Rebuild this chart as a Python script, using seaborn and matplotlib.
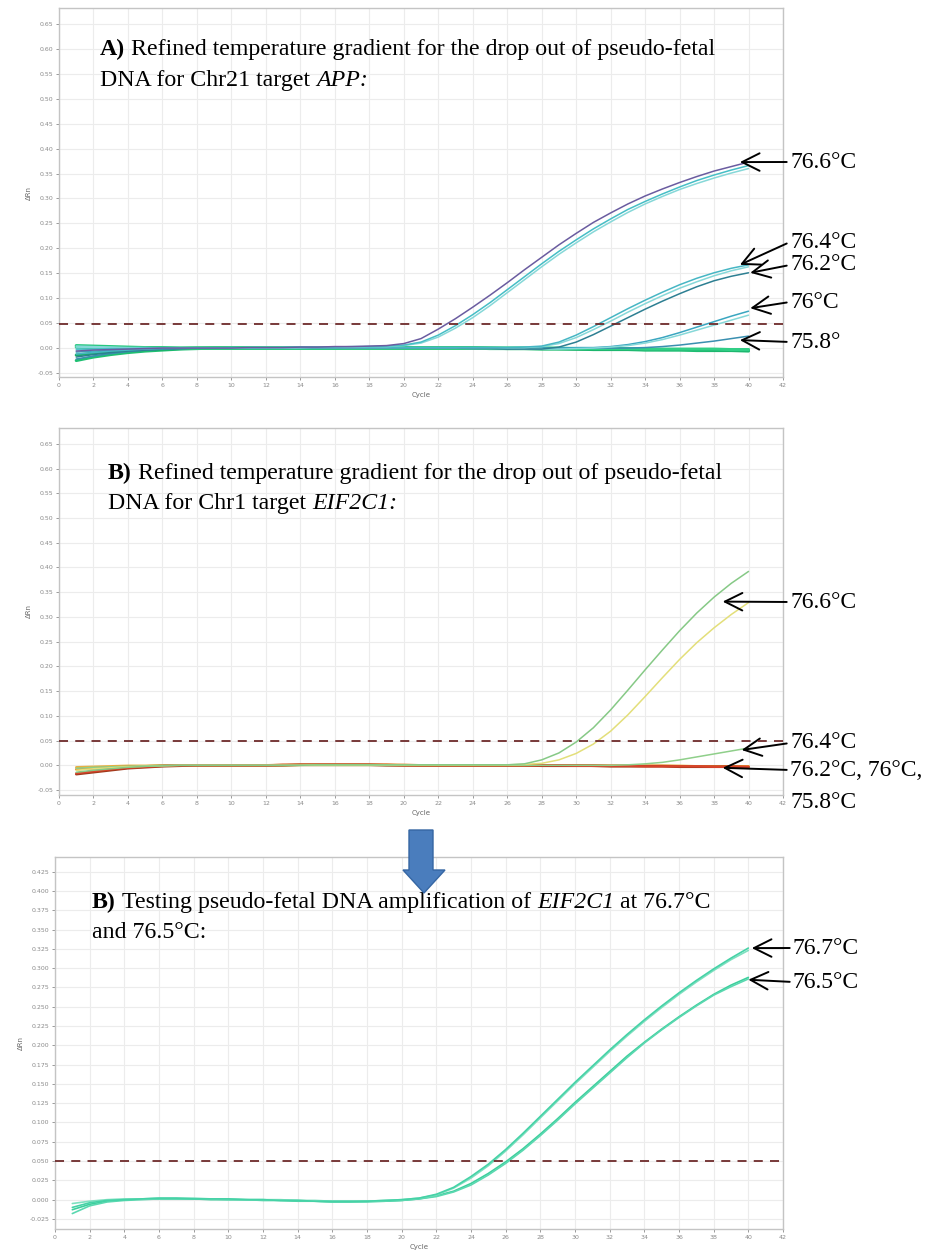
import numpy as np
import pandas as pd
import matplotlib
matplotlib.use("Agg")
import matplotlib.pyplot as plt
from matplotlib.patches import Polygon
from matplotlib.transforms import IdentityTransform
from matplotlib.ticker import FormatStrFormatter
import seaborn as sns

# ---------------- data ----------------
cycles = list(range(1, 41))
x_ticks = list(range(0, 43, 2))

# Panel A (Chr21 target APP)
A_766_a = [-0.006,-0.004,-0.003,-0.002,-0.001,0.000,0.000,0.000,0.000,0.000,
           0.001,0.001,0.001,0.002,0.002,0.003,0.003,0.004,0.005,0.009,
           0.019,0.038,0.059,0.082,0.106,0.131,0.157,0.182,0.207,0.230,
           0.252,0.271,0.289,0.305,0.319,0.332,0.344,0.355,0.364,0.373]
A_766_b = [-0.002,-0.002,-0.001,-0.001,0.000,0.000,0.000,0.000,0.000,0.001,
           0.001,0.001,0.001,0.002,0.002,0.002,0.003,0.003,0.004,0.006,
           0.012,0.026,0.045,0.067,0.091,0.117,0.143,0.169,0.194,0.217,
           0.239,0.259,0.278,0.294,0.309,0.323,0.336,0.347,0.357,0.366]
A_766_c = [0.004,0.003,0.002,0.001,0.001,0.000,0.000,0.000,0.000,0.000,
           0.001,0.001,0.001,0.001,0.002,0.002,0.002,0.003,0.003,0.005,
           0.010,0.022,0.040,0.061,0.085,0.111,0.137,0.163,0.188,0.211,
           0.233,0.253,0.272,0.289,0.304,0.318,0.330,0.341,0.351,0.360]
A_764_a = [-0.012,-0.009,-0.006,-0.004,-0.002,-0.001,0.000,0.000,0.000,0.000,
           0.000,0.000,0.001,0.001,0.001,0.001,0.001,0.001,0.001,0.001,
           0.001,0.001,0.001,0.001,0.001,0.001,0.002,0.004,0.012,0.026,
           0.043,0.061,0.079,0.096,0.112,0.127,0.140,0.151,0.160,0.167]
A_764_b = [-0.004,-0.003,-0.002,-0.001,-0.001,0.000,0.000,0.000,0.000,0.000,
           0.000,0.000,0.000,0.001,0.001,0.001,0.001,0.001,0.001,0.001,
           0.001,0.001,0.001,0.001,0.001,0.001,0.001,0.003,0.009,0.021,
           0.037,0.054,0.072,0.089,0.105,0.120,0.133,0.145,0.155,0.163]
A_762 = [-0.018,-0.013,-0.009,-0.006,-0.004,-0.002,-0.001,0.000,0.000,0.000,
         0.000,0.000,0.000,0.000,0.000,0.000,0.000,0.000,0.000,0.000,
         0.000,0.000,0.000,-0.001,-0.001,-0.002,-0.002,-0.002,0.002,0.012,
         0.027,0.044,0.061,0.078,0.094,0.109,0.123,0.135,0.144,0.151]
A_760_a = [-0.008,-0.006,-0.004,-0.003,-0.002,-0.001,0.000,0.000,0.000,0.000,
           0.000,0.000,0.000,0.000,0.000,0.000,0.000,0.000,0.000,0.000,
           0.000,0.000,0.000,0.000,0.000,0.000,0.000,0.000,0.000,0.001,
           0.001,0.003,0.007,0.013,0.021,0.031,0.042,0.053,0.064,0.074]
A_760_b = [0.002,0.001,0.001,0.000,0.000,0.000,0.000,0.000,0.000,0.000,
           0.000,0.000,0.000,0.000,0.000,0.000,0.000,0.000,0.000,0.000,
           0.000,0.000,0.000,-0.001,-0.001,-0.001,-0.002,-0.002,-0.002,-0.001,
           0.000,0.002,0.005,0.010,0.017,0.026,0.036,0.046,0.056,0.066]
A_758 = [-0.022,-0.016,-0.011,-0.007,-0.004,-0.002,-0.001,0.000,0.000,0.000,
         0.000,0.000,0.000,0.000,0.000,0.000,0.000,0.000,0.000,0.000,
         0.000,0.000,0.000,0.000,0.000,0.000,0.000,0.000,0.000,0.000,
         0.000,0.000,0.000,0.001,0.003,0.006,0.010,0.014,0.019,0.024]
A_base_1 = [-0.025,-0.018,-0.013,-0.009,-0.006,-0.004,-0.002,-0.001,0.000,0.000,
            0.000,0.000,0.000,0.000,0.000,0.000,0.000,0.000,0.000,0.000,
            0.000,0.000,0.000,0.000,-0.001,-0.001,-0.001,-0.002,-0.002,-0.002,
            -0.003,-0.003,-0.003,-0.004,-0.004,-0.004,-0.005,-0.005,-0.005,-0.006]
A_base_2 = [0.005,0.004,0.003,0.002,0.001,0.001,0.000,0.000,0.000,0.000,
            0.000,0.000,0.000,0.000,0.000,0.000,0.001,0.001,0.001,0.001,
            0.001,0.001,0.001,0.001,0.000,0.000,0.000,0.000,-0.001,-0.001,
            -0.001,-0.002,-0.002,-0.002,-0.003,-0.003,-0.003,-0.004,-0.004,-0.004]
A_base_3 = [-0.014,-0.010,-0.007,-0.005,-0.003,-0.002,-0.001,0.000,0.000,0.000,
            0.000,0.000,0.000,0.000,0.000,0.000,0.000,0.000,0.000,0.000,
            0.000,0.000,0.000,0.000,0.000,-0.001,-0.001,-0.001,-0.001,-0.002,
            -0.002,-0.002,-0.002,-0.003,-0.003,-0.003,-0.003,-0.004,-0.004,-0.004]
A_base_4 = [0.002,0.001,0.001,0.000,0.000,0.000,0.000,0.000,0.000,0.000,
            0.000,0.000,0.000,0.000,0.000,0.000,0.000,0.000,0.000,0.000,
            0.000,0.000,0.000,0.000,0.000,0.000,0.000,0.000,0.000,-0.001,
            -0.001,-0.001,-0.001,-0.002,-0.002,-0.002,-0.002,-0.002,-0.003,-0.003]

# Panel B (Chr1 target EIF2C1)
B_766_green = [-0.014,-0.010,-0.007,-0.004,-0.002,-0.001,0.000,0.000,0.000,0.000,
               0.000,0.000,0.000,0.000,0.001,0.001,0.001,0.001,0.001,0.001,
               0.001,0.001,0.001,0.001,0.001,0.001,0.003,0.011,0.025,0.047,
               0.076,0.112,0.152,0.193,0.233,0.272,0.308,0.340,0.368,0.392]
B_766_yellow = [-0.010,-0.007,-0.005,-0.003,-0.002,-0.001,0.000,0.000,0.000,0.000,
                0.000,0.000,0.000,0.000,0.001,0.001,0.001,0.001,0.001,0.001,
                0.001,0.001,0.001,0.001,0.001,0.001,0.002,0.004,0.011,0.024,
                0.043,0.069,0.102,0.139,0.177,0.214,0.248,0.278,0.305,0.329]
B_764 = [-0.006,-0.004,-0.003,-0.002,-0.001,0.000,0.000,0.000,0.000,0.000,
         0.000,0.000,0.000,0.000,0.000,0.000,0.000,0.000,0.000,0.000,
         0.000,0.000,0.000,0.000,0.000,0.000,0.000,0.000,0.000,0.000,
         0.000,0.000,0.001,0.003,0.006,0.011,0.017,0.023,0.029,0.035]
B_base_red = [-0.016,-0.012,-0.008,-0.005,-0.003,-0.001,0.000,0.000,0.000,0.000,
              0.000,0.000,0.001,0.001,0.001,0.001,0.001,0.001,0.001,0.000,
              0.000,0.000,0.000,0.000,0.000,0.000,0.000,0.000,0.000,-0.001,
              -0.001,-0.001,-0.001,-0.002,-0.002,-0.002,-0.002,-0.003,-0.003,-0.003]
B_base_orange = [-0.008,-0.006,-0.004,-0.003,-0.002,-0.001,0.000,0.000,0.000,0.000,
                 0.000,0.000,0.001,0.001,0.001,0.001,0.001,0.001,0.001,0.001,
                 0.000,0.000,0.000,0.000,0.000,0.000,0.000,0.000,0.000,0.000,
                 -0.001,-0.001,-0.001,-0.001,-0.001,-0.002,-0.002,-0.002,-0.002,-0.002]
B_base_darkred = [-0.018,-0.014,-0.010,-0.006,-0.004,-0.002,-0.001,0.000,0.000,0.000,
                  0.000,0.000,0.000,0.001,0.001,0.001,0.001,0.001,0.000,0.000,
                  0.000,0.000,0.000,0.000,0.000,0.000,0.000,-0.001,-0.001,-0.001,
                  -0.001,-0.002,-0.002,-0.002,-0.002,-0.003,-0.003,-0.003,-0.003,-0.004]
B_base_amber = [-0.004,-0.003,-0.002,-0.001,-0.001,0.000,0.000,0.000,0.000,0.000,
                0.000,0.000,0.000,0.001,0.001,0.001,0.001,0.001,0.001,0.000,
                0.000,0.000,0.000,0.000,0.000,0.000,0.000,0.000,0.000,0.000,
                0.000,-0.001,-0.001,-0.001,-0.001,-0.001,-0.002,-0.002,-0.002,-0.002]

# Panel C (EIF2C1 at 76.7 / 76.5 C)
C_767_a = [-0.010,-0.004,-0.001,0.000,0.001,0.002,0.002,0.001,0.001,0.001,
           0.000,0.000,-0.001,-0.001,-0.002,-0.002,-0.002,-0.002,-0.001,0.000,
           0.002,0.007,0.016,0.030,0.046,0.065,0.086,0.108,0.130,0.152,
           0.173,0.194,0.214,0.233,0.251,0.268,0.284,0.299,0.313,0.326]
C_767_b = [-0.005,-0.002,0.000,0.001,0.001,0.002,0.002,0.002,0.001,0.001,
           0.000,0.000,0.000,-0.001,-0.001,-0.002,-0.002,-0.002,-0.001,0.000,
           0.002,0.006,0.015,0.028,0.044,0.063,0.084,0.106,0.128,0.150,
           0.171,0.192,0.212,0.231,0.249,0.266,0.282,0.297,0.311,0.323]
C_765_a = [-0.018,-0.008,-0.003,-0.001,0.000,0.001,0.001,0.001,0.001,0.000,
           0.000,0.000,-0.001,-0.001,-0.002,-0.003,-0.003,-0.003,-0.002,-0.001,
           0.001,0.004,0.010,0.019,0.032,0.047,0.064,0.083,0.103,0.124,
           0.144,0.164,0.184,0.203,0.220,0.236,0.251,0.265,0.276,0.286]
C_765_b = [-0.013,-0.006,-0.002,0.000,0.001,0.001,0.001,0.001,0.000,0.000,
           0.000,-0.001,-0.001,-0.002,-0.002,-0.003,-0.003,-0.002,-0.002,-0.001,
           0.001,0.005,0.011,0.021,0.034,0.049,0.066,0.085,0.105,0.126,
           0.146,0.166,0.186,0.204,0.221,0.237,0.252,0.266,0.278,0.288]

thresholds = [0.048, 0.050, 0.050]

# annotations: (label, tip cycle, tip value, text x px, text y px)
ann_A = [("76.6°C", 39.5, 0.373, 790, 162),
         ("76.4°C", 39.5, 0.167, 790, 242),
         ("76.2°C", 40.1, 0.151, 790, 265),
         ("76°C", 40.1, 0.080, 790, 302),
         ("75.8°", 39.5, 0.016, 790, 342)]
ann_B = [("76.6°C", 38.5, 0.331, 790, 602),
         ("76.4°C", 39.6, 0.031, 790, 743),
         ("76.2°C, 76°C,", 38.5, -0.005, 790, 770)]
ann_C = [("76.7°C", 40.2, 0.326, 793, 948),
         ("76.5°C", 40.0, 0.285, 793, 982)]

# title pieces: (text, style, space_after)
title_A1 = [("A)", "bold", True), ("Refined temperature gradient for the drop out of pseudo-fetal", "normal", False)]
title_A2 = [("DNA for Chr21 target", "normal", True), ("APP:", "italic", False)]
title_B1 = [("B)", "bold", True), ("Refined temperature gradient for the drop out of pseudo-fetal", "normal", False)]
title_B2 = [("DNA for Chr1 target", "normal", True), ("EIF2C1:", "italic", False)]
title_C1 = [("B)", "bold", True), ("Testing pseudo-fetal DNA amplification of", "normal", True),
            ("EIF2C1", "italic", True), ("at 76.7°C", "normal", False)]
title_C2 = [("and 76.5°C:", "normal", False)]

# ---------------- style ----------------
sns.set_theme(style="white")
plt.rcParams["font.family"] = ["DejaVu Sans"]

W, H = 933, 1258
fig = plt.figure(figsize=(W / 100, H / 100), dpi=100)
fig.patch.set_facecolor("white")
renderer = fig.canvas.get_renderer()
SERIF = "Liberation Serif"
TFS = 17.2


def ax_at(left, top, right, bottom):
    return fig.add_axes([left / W, 1 - bottom / H, (right - left) / W, (bottom - top) / H])


def long_df(series):
    rows = []
    for name, vals in series:
        for c, v in zip(cycles, vals):
            rows.append((name, c, v))
    return pd.DataFrame(rows, columns=["well", "Cycle", "dRn"])


def draw_panel(ax, series, colors, widths, ylim, yticks, yfmt, thr):
    df = long_df(series)
    for name, _ in series:
        sns.lineplot(data=df[df.well == name], x="Cycle", y="dRn", ax=ax,
                     color=colors[name], lw=widths[name], estimator=None,
                     legend=False, zorder=3)
    ax.axhline(thr, color="#6e2b2b", lw=1.3, ls=(0, (5, 4)), zorder=4)
    ax.set_xlim(0, 42)
    ax.set_ylim(*ylim)
    ax.set_xticks(x_ticks)
    ax.set_yticks(yticks)
    ax.yaxis.set_major_formatter(FormatStrFormatter(yfmt))
    ax.grid(True, color="#ececec", lw=0.8, zorder=0)
    for s in ax.spines.values():
        s.set_color("#c4c4c4")
        s.set_linewidth(1.0)
    ax.tick_params(labelsize=4.5, colors="#8a8a8a", length=2, width=0.6,
                   left=True, bottom=True, pad=2)
    ax.set_xlabel("Cycle", fontsize=5, color="#666666", labelpad=3)
    ax.set_ylabel("ΔRn", fontsize=5, color="#666666", labelpad=4)


def annotate(ax, items, fs=17):
    for lab, cx, cy, tx, ty in items:
        ax.annotate(lab, xy=(cx, cy), xycoords="data",
                    xytext=(tx, H - ty), textcoords="figure pixels",
                    ha="left", va="center", fontsize=fs,
                    family=SERIF, color="black",
                    annotation_clip=False,
                    arrowprops=dict(arrowstyle="->,head_length=0.7,head_width=0.35",
                                    color="black", lw=1.4, relpos=(0, 0.5),
                                    shrinkA=0, shrinkB=0, mutation_scale=18))


def piece_kw(style):
    kw = dict(family=SERIF, fontsize=TFS, color="black")
    if style == "bold":
        kw["fontweight"] = "bold"
    elif style == "italic":
        kw["fontstyle"] = "italic"
    return kw


def space_width():
    t1 = fig.text(0, 0, "x x", **piece_kw("normal"))
    t2 = fig.text(0, 0, "xx", **piece_kw("normal"))
    w = t1.get_window_extent(renderer).width - t2.get_window_extent(renderer).width
    t1.remove()
    t2.remove()
    return w


SPACE = space_width()


def rich_line(xp, yp, pieces):
    x = xp
    for text, style, sp in pieces:
        t = fig.text(x / W, 1 - yp / H, text, ha="left", va="baseline", **piece_kw(style))
        x += t.get_window_extent(renderer).width + (SPACE if sp else 0)


# ---------------- Panel A ----------------
axA = ax_at(59, 8, 783, 377)
sA = [("b1", A_base_1), ("b2", A_base_2), ("b3", A_base_3), ("b4", A_base_4),
      ("758", A_758), ("760a", A_760_a), ("760b", A_760_b),
      ("762", A_762), ("764b", A_764_b), ("764a", A_764_a),
      ("766c", A_766_c), ("766b", A_766_b), ("766a", A_766_a)]
cA = {"b1": "#1fbf72", "b2": "#27c77e", "b3": "#19ad66", "b4": "#31cf86",
      "758": "#3a8fb0", "760a": "#3aa6c0", "760b": "#86d8d8",
      "762": "#2d7f92", "764b": "#86d8d8", "764a": "#46b6c4",
      "766c": "#86d8d8", "766b": "#46bec6", "766a": "#6a5ca0"}
wA = {k: (2.2 if k.startswith("b") else 1.1) for k in cA}
draw_panel(axA, sA, cA, wA, (-0.058, 0.682),
           [round(-0.05 + 0.05 * i, 2) for i in range(15)], "%.2f", thresholds[0])
annotate(axA, ann_A)
rich_line(100, 55, title_A1)
rich_line(100, 86, title_A2)

# ---------------- Panel B ----------------
axB = ax_at(59, 428, 783, 795)
sB = [("amber", B_base_amber), ("orange", B_base_orange), ("darkred", B_base_darkred),
      ("red", B_base_red), ("764", B_764), ("yellow", B_766_yellow), ("green", B_766_green)]
cB = {"amber": "#e9b040", "orange": "#e58a2e", "darkred": "#9e3a1c",
      "red": "#d9432b", "764": "#8fcf8a", "yellow": "#e3df7a", "green": "#86c986"}
wB = {"amber": 1.8, "orange": 1.8, "darkred": 1.8, "red": 1.6,
      "764": 1.1, "yellow": 1.1, "green": 1.1}
draw_panel(axB, sB, cB, wB, (-0.06, 0.682),
           [round(-0.05 + 0.05 * i, 2) for i in range(15)], "%.2f", thresholds[1])
annotate(axB, ann_B)
fig.text(790 / W, 1 - 803 / H, "75.8°C", ha="left", va="center", fontsize=17,
         family=SERIF, color="black")
rich_line(108, 479, title_B1)
rich_line(108, 509, title_B2)

# ---------------- Panel C ----------------
axC = ax_at(55, 857, 783, 1229)
sC = [("765b", C_765_b), ("765a", C_765_a), ("767b", C_767_b), ("767a", C_767_a)]
cC = {"765b": "#3ccf9c", "765a": "#5ad8b0", "767b": "#7ee0c0", "767a": "#45d2a6"}
wC = {k: 1.2 for k in cC}
draw_panel(axC, sC, cC, wC, (-0.038, 0.444),
           [round(-0.025 + 0.025 * i, 3) for i in range(19)], "%.3f", thresholds[2])
annotate(axC, ann_C)
rich_line(92, 908, title_C1)
rich_line(92, 938, title_C2)

# ---------------- blue connector arrow ----------------
pts = [(409, 830), (433, 830), (433, 870), (445, 870), (424, 893), (403, 870), (409, 870)]
arrow = Polygon([(x, H - y) for x, y in pts], closed=True, transform=IdentityTransform(),
                facecolor="#4a7dbd", edgecolor="#3566a3", lw=1.0, zorder=10)
fig.add_artist(arrow)

fig.savefig("out.png", dpi=100, facecolor="white")
